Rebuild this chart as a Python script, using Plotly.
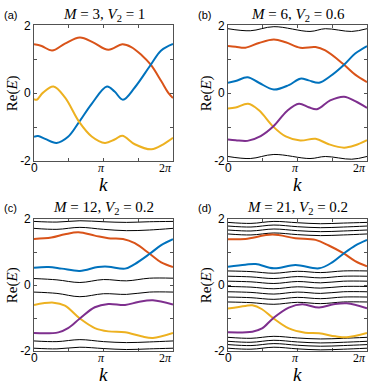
import numpy as np
import plotly.graph_objects as go

PI = np.pi

# ---------------- data (k in units of pi, E = Re(E)) ----------------
# panel (a): M = 3, V2 = 1
a_orange_k = [0, 0.11, 0.26, 0.445, 0.66, 0.85, 1.07, 1.27, 1.40, 1.55, 1.68, 1.83, 1.93, 2.0]
a_orange_E = [1.44, 1.39, 1.26, 1.46, 1.64, 1.50, 1.28, 1.44, 1.36, 1.12, 0.84, 0.36, 0.02, -0.14]
a_blue_k = [0, 0.06, 0.16, 0.325, 0.49, 0.65, 0.83, 1.05, 1.16, 1.28, 1.45, 1.68, 1.83, 2.0]
a_blue_E = [-1.28, -1.26, -1.34, -1.46, -1.28, -0.84, -0.31, 0.20, 0.05, -0.19, 0.17, 0.84, 1.26, 1.45]
a_yellow_k = [0, 0.04, 0.13, 0.28, 0.445, 0.65, 0.83, 1.02, 1.16, 1.27, 1.45, 1.69, 1.86, 2.0]
a_yellow_E = [-0.17, -0.19, 0.02, 0.20, -0.12, -0.84, -1.27, -1.46, -1.36, -1.25, -1.50, -1.65, -1.50, -1.31]

# panel (b): M = 6, V2 = 0.6
b_orange_k = [0, 0.11, 0.25, 0.445, 0.66, 0.83, 1.04, 1.26, 1.40, 1.67, 1.83, 2.0]
b_orange_E = [1.39, 1.37, 1.34, 1.48, 1.58, 1.50, 1.34, 1.36, 1.26, 0.84, 0.55, 0.33]
b_blue_k = [0, 0.11, 0.28, 0.445, 0.66, 0.875, 1.04, 1.16, 1.31, 1.47, 1.67, 1.83, 2.0]
b_blue_E = [0.31, 0.36, 0.47, 0.31, 0.11, 0.24, 0.43, 0.38, 0.31, 0.50, 0.84, 1.17, 1.39]
b_yellow_k = [0, 0.11, 0.29, 0.445, 0.65, 0.83, 1.04, 1.26, 1.45, 1.67, 1.83, 2.0]
b_yellow_E = [-0.45, -0.42, -0.31, -0.50, -0.98, -1.27, -1.39, -1.34, -1.50, -1.60, -1.53, -1.38]
b_purple_k = [0, 0.11, 0.28, 0.47, 0.65, 0.85, 1.02, 1.16, 1.28, 1.47, 1.67, 1.83, 2.0]
b_purple_E = [-1.36, -1.38, -1.40, -1.26, -0.98, -0.52, -0.31, -0.41, -0.47, -0.21, -0.10, -0.23, -0.43]
b_black_k = [0, 0.32, 0.66, 1.18, 1.40, 1.78, 2.0]
b_black_E = [
    [1.90, 1.84, 1.96, 1.82, 1.90, 1.82, 1.90],
    [-1.86, -1.92, -1.80, -1.92, -1.86, -1.94, -1.86],
]

# panel (c): M = 12, V2 = 0.2
c_orange_k = [0, 0.25, 0.445, 0.64, 0.875, 1.07, 1.28, 1.45, 1.665, 1.83, 2.0]
c_orange_E = [1.40, 1.44, 1.54, 1.60, 1.50, 1.42, 1.40, 1.27, 0.95, 0.69, 0.55]
c_blue_k = [0, 0.21, 0.40, 0.66, 0.92, 1.07, 1.31, 1.45, 1.665, 1.83, 2.0]
c_blue_E = [0.53, 0.55, 0.50, 0.43, 0.55, 0.56, 0.50, 0.64, 0.95, 1.21, 1.39]
c_yellow_k = [0, 0.28, 0.445, 0.66, 0.875, 1.07, 1.31, 1.545, 1.71, 2.0]
c_yellow_E = [-0.60, -0.53, -0.62, -1.01, -1.30, -1.40, -1.43, -1.55, -1.60, -1.45]
c_purple_k = [0, 0.35, 0.49, 0.66, 0.875, 1.07, 1.31, 1.50, 1.71, 2.0]
c_purple_E = [-1.45, -1.43, -1.30, -1.01, -0.67, -0.57, -0.60, -0.51, -0.46, -0.59]
c_black_k = [0, 0.33, 0.66, 1.0, 1.33, 1.66, 2.0]
c_black_E = [
    [1.93, 1.91, 1.95, 1.92, 1.90, 1.92, 1.93],
    [1.72, 1.69, 1.75, 1.69, 1.65, 1.67, 1.72],
    [0.20, 0.16, 0.08, 0.17, 0.13, 0.21, 0.21],
    [-0.21, -0.25, -0.35, -0.26, -0.28, -0.21, -0.21],
    [-1.69, -1.71, -1.65, -1.71, -1.74, -1.72, -1.69],
    [-1.91, -1.93, -1.88, -1.92, -1.95, -1.93, -1.91],
]

# panel (d): M = 21, V2 = 0.2
d_orange_k = [0, 0.25, 0.64, 0.97, 1.26, 1.45, 1.665, 1.83, 2.0]
d_orange_E = [1.39, 1.40, 1.53, 1.42, 1.37, 1.20, 0.96, 0.73, 0.57]
d_blue_k = [0, 0.25, 0.40, 0.66, 0.97, 1.31, 1.50, 1.665, 1.83, 2.0]
d_blue_E = [0.56, 0.62, 0.64, 0.51, 0.61, 0.51, 0.69, 0.96, 1.20, 1.37]
d_yellow_k = [0, 0.25, 0.35, 0.49, 0.65, 0.875, 1.11, 1.31, 1.545, 1.71, 2.0]
d_yellow_E = [-0.71, -0.63, -0.61, -0.73, -1.00, -1.31, -1.44, -1.46, -1.55, -1.58, -1.45]
d_purple_k = [0, 0.35, 0.49, 0.65, 0.875, 1.07, 1.31, 1.52, 1.71, 2.0]
d_purple_E = [-1.43, -1.41, -1.31, -1.00, -0.68, -0.58, -0.68, -0.58, -0.55, -0.70]
d_black_k = [0, 0.33, 0.66, 1.0, 1.33, 1.66, 2.0]
d_black_E = [
    [1.90, 1.87, 1.93, 1.89, 1.86, 1.88, 1.90],
    [1.79, 1.76, 1.82, 1.77, 1.74, 1.76, 1.79],
    [1.67, 1.64, 1.70, 1.65, 1.62, 1.64, 1.67],
    [1.55, 1.52, 1.58, 1.53, 1.50, 1.52, 1.55],
    [0.43, 0.41, 0.36, 0.42, 0.38, 0.43, 0.43],
    [0.27, 0.25, 0.20, 0.26, 0.22, 0.27, 0.27],
    [0.12, 0.10, 0.05, 0.11, 0.07, 0.12, 0.12],
    [-0.04, -0.06, -0.11, -0.05, -0.09, -0.04, -0.04],
    [-0.20, -0.22, -0.27, -0.21, -0.25, -0.20, -0.20],
    [-0.36, -0.38, -0.43, -0.37, -0.41, -0.36, -0.36],
    [-0.51, -0.53, -0.58, -0.52, -0.56, -0.51, -0.51],
    [-1.58, -1.61, -1.55, -1.60, -1.63, -1.61, -1.58],
    [-1.70, -1.73, -1.67, -1.72, -1.75, -1.73, -1.70],
    [-1.80, -1.83, -1.77, -1.82, -1.85, -1.83, -1.80],
    [-1.91, -1.94, -1.88, -1.93, -1.96, -1.94, -1.91],
]

panel_letters = ["(a)", "(b)", "(c)", "(d)"]
panel_M = ["3", "6", "12", "21"]
panel_V2 = ["1", "0.6", "0.2", "0.2"]
x_tick_k = [0, 1, 2]                 # major x ticks, units of pi
x_tick_text = ["0", "<i>π</i>", "2<i>π</i>"]
y_tick_vals = [-2, 0, 2]
y_tick_text = ["-2", "0", "2"]

# ---------------- styling ----------------
W, H = 374, 390
C_ORANGE = "#D95319"
C_BLUE = "#0072BD"
C_YELLOW = "#EDB120"
C_PURPLE = "#7E2F8E"
SERIF = "Liberation Serif"
SANS = "Liberation Sans"
AX = "#262626"

# plot-area boxes in pixels: (left, right, top, bottom)
boxes = [(34, 173, 19, 160), (228, 367, 19, 160), (34, 173, 220, 357), (228, 367, 220, 357)]

panels = [
    dict(black_k=None, black=[],
         colored=[(a_orange_k, a_orange_E, C_ORANGE), (a_blue_k, a_blue_E, C_BLUE),
                  (a_yellow_k, a_yellow_E, C_YELLOW)]),
    dict(black_k=b_black_k, black=b_black_E,
         colored=[(b_orange_k, b_orange_E, C_ORANGE), (b_blue_k, b_blue_E, C_BLUE),
                  (b_yellow_k, b_yellow_E, C_YELLOW), (b_purple_k, b_purple_E, C_PURPLE)]),
    dict(black_k=c_black_k, black=c_black_E,
         colored=[(c_orange_k, c_orange_E, C_ORANGE), (c_blue_k, c_blue_E, C_BLUE),
                  (c_yellow_k, c_yellow_E, C_YELLOW), (c_purple_k, c_purple_E, C_PURPLE)]),
    dict(black_k=d_black_k, black=d_black_E,
         colored=[(d_orange_k, d_orange_E, C_ORANGE), (d_blue_k, d_blue_E, C_BLUE),
                  (d_yellow_k, d_yellow_E, C_YELLOW), (d_purple_k, d_purple_E, C_PURPLE)]),
]

fig = go.Figure()
layout = dict(
    width=W, height=H, margin=dict(l=0, r=0, t=0, b=0),
    paper_bgcolor="white", plot_bgcolor="white", showlegend=False,
    font=dict(family=SANS, size=12, color="black"),
)
annotations = []

for i, p in enumerate(panels):
    n = "" if i == 0 else str(i + 1)
    xa, ya = "x" + n, "y" + n
    l, r, t, b = boxes[i]
    for row in p["black"]:
        fig.add_trace(go.Scatter(x=[v * PI for v in p["black_k"]], y=row, mode="lines",
                                 line=dict(color="black", width=1, shape="spline", smoothing=1.0),
                                 xaxis=xa, yaxis=ya, hoverinfo="skip"))
    for ks, es, col in p["colored"]:
        fig.add_trace(go.Scatter(x=[v * PI for v in ks], y=es, mode="lines",
                                 line=dict(color=col, width=2, shape="spline", smoothing=1.0),
                                 xaxis=xa, yaxis=ya, hoverinfo="skip"))
    layout["xaxis" + n] = dict(
        domain=[l / W, r / W], range=[0, 2 * PI], anchor=ya,
        tickvals=[v * PI for v in x_tick_k], showticklabels=False,
        ticks="inside", ticklen=3, tickwidth=0.8, tickcolor=AX,
        minor=dict(tickvals=[0.5 * PI, 1.5 * PI], ticks="inside", ticklen=3, tickwidth=0.8, tickcolor=AX),
        showline=True, linecolor=AX, linewidth=0.8, mirror="ticks",
        showgrid=False, zeroline=False, fixedrange=True,
    )
    layout["yaxis" + n] = dict(
        domain=[1 - b / H, 1 - t / H], range=[-2, 2], anchor=xa,
        tickvals=y_tick_vals, ticktext=y_tick_text,
        ticks="inside", ticklen=3, tickwidth=0.8, tickcolor=AX,
        minor=dict(tickvals=[-1, 1], ticks="inside", ticklen=3, tickwidth=0.8, tickcolor=AX),
        showline=True, linecolor=AX, linewidth=0.8, mirror="ticks",
        showgrid=False, zeroline=False, tickfont=dict(family=SANS, size=12, color="black"),
        fixedrange=True,
    )
    cx = (l + r) / 2 / W
    # x tick labels (0 sans, pi serif italic), placed under the tick positions
    for kv, txt in zip(x_tick_k, x_tick_text):
        px = l + (r - l) * kv / 2.0
        if kv == 0:
            xanc, fam, fs = "center", SANS, 12
        elif kv == 1:
            xanc, fam, fs = "center", SERIF, 12
            px -= 2
        else:
            xanc, fam, fs = "right", SERIF, 12
            px += 1
        annotations.append(dict(
            x=px / W, y=1 - (b + 7) / H, xref="paper", yref="paper", xanchor=xanc, yanchor="middle",
            text=txt, showarrow=False, font=dict(family=fam, size=fs, color="black")))
    # title
    annotations.append(dict(
        x=cx, y=1 - (t - 11) / H, xref="paper", yref="paper", xanchor="center", yanchor="middle",
        text="<i>M</i> = %s, <i>V</i><sub>2</sub> = %s" % (panel_M[i], panel_V2[i]),
        showarrow=False, font=dict(family=SERIF, size=15, color="black")))
    # panel letter
    annotations.append(dict(
        x=(l - 32) / W, y=1 - (t - 11) / H, xref="paper", yref="paper", xanchor="left", yanchor="middle",
        text=panel_letters[i], showarrow=False, font=dict(family=SANS, size=11, color="black")))
    # x label
    annotations.append(dict(
        x=cx, y=1 - min(b + 24, 381) / H, xref="paper", yref="paper", xanchor="center", yanchor="middle",
        text="<i>k</i>", showarrow=False, font=dict(family=SERIF, size=19, color="black")))
    # y label
    annotations.append(dict(
        x=(l - 22) / W, y=1 - (t + b) / 2 / H, xref="paper", yref="paper", xanchor="center", yanchor="middle",
        text="Re(<i>E</i>)", textangle=-90, showarrow=False,
        font=dict(family=SERIF, size=15, color="black")))

layout["annotations"] = annotations
fig.update_layout(**layout)
fig.write_html("out.html", config={"displayModeBar": False, "staticPlot": True},
               post_script="document.body.style.margin='0';document.body.style.overflow='hidden';")
